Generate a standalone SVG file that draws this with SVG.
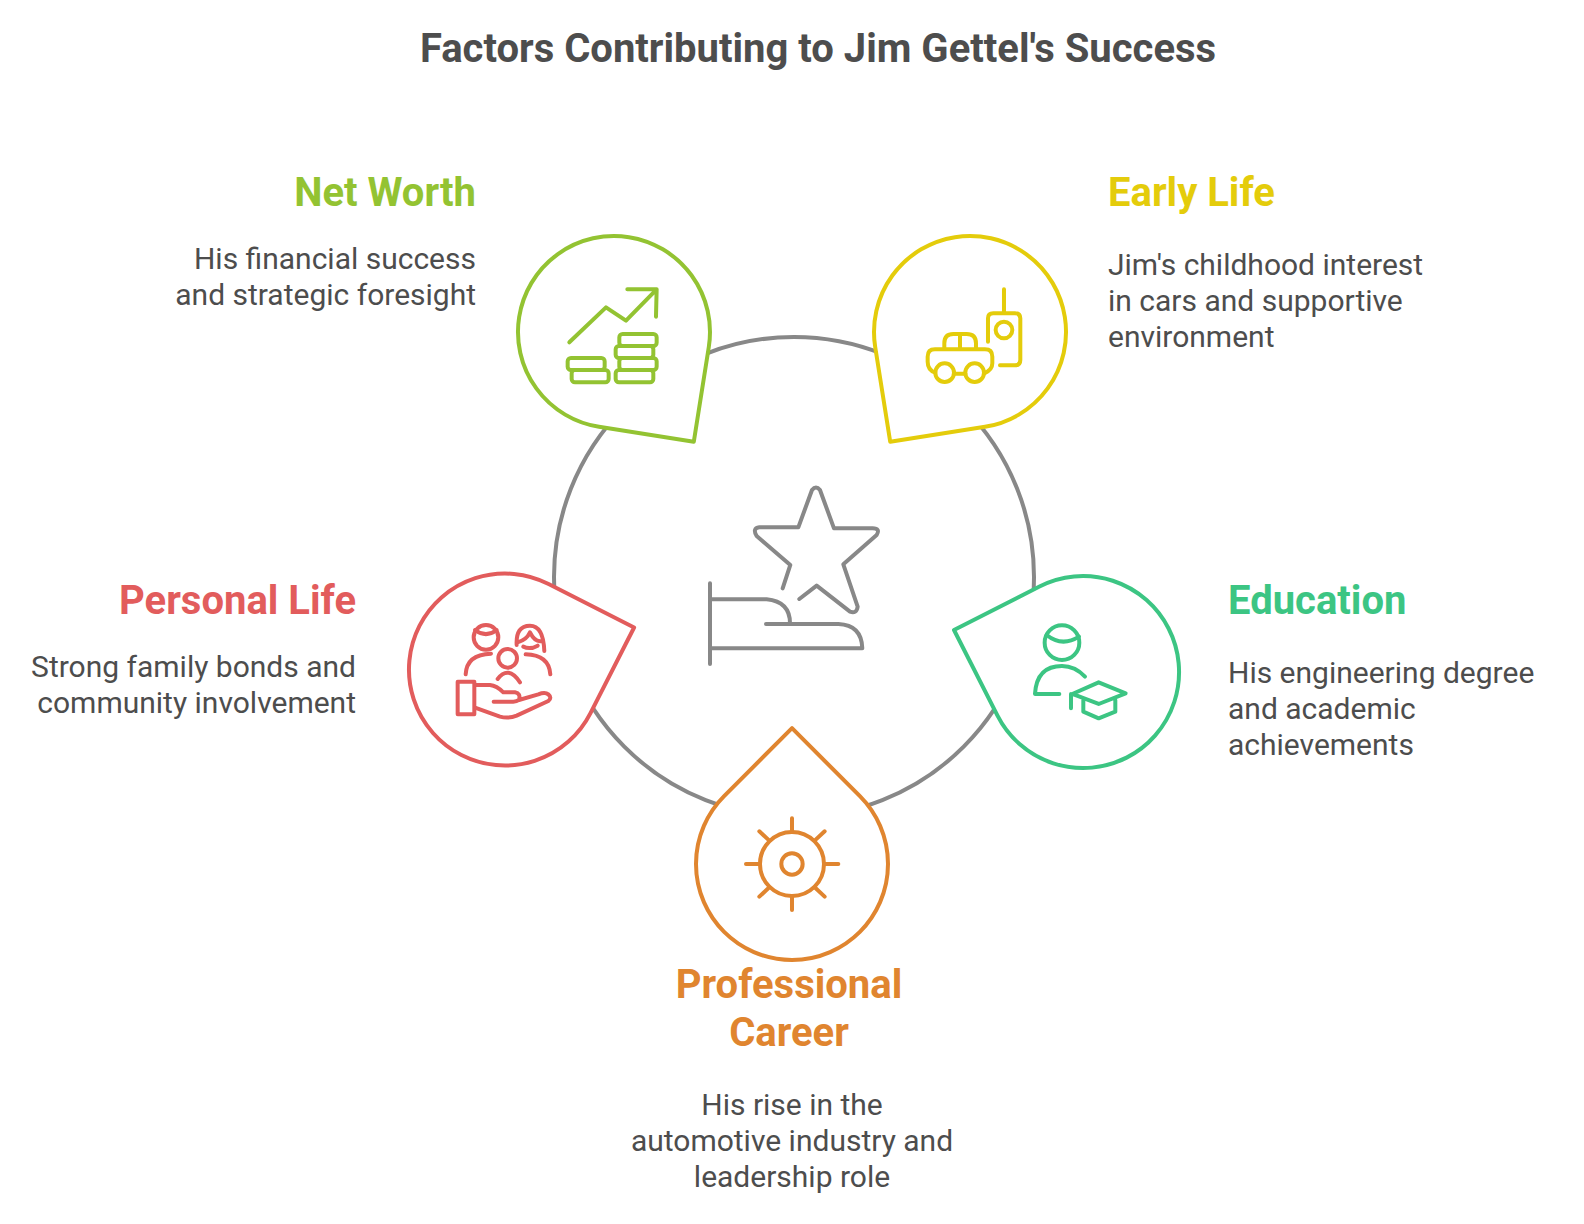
<svg xmlns="http://www.w3.org/2000/svg" width="1584" height="1224" viewBox="0 0 1584 1224">
<style>
text{font-family:Roboto,"Liberation Sans",sans-serif}
.title{font-size:40px;font-weight:700;fill:#4d4d4d}
.lab{font-size:40px;font-weight:700}
.body{font-size:30px;fill:#4d4d4d}
.drop{fill:#fff;stroke-width:4;stroke-linejoin:round}
.ic{fill:none;stroke-width:12;stroke-linecap:round;stroke-linejoin:round}
.g{stroke:#93C332}.y{stroke:#E4CC0B}.r{stroke:#E25C5C}.t{stroke:#3CC583}.o{stroke:#E0852F}
</style>
<rect width="1584" height="1224" fill="#fff"/>
<text class="title" x="818" y="62" text-anchor="middle">Factors Contributing to Jim Gettel's Success</text>
<g id="connectors"><circle cx="794" cy="577" r="240" fill="none" stroke="#888" stroke-width="4"/></g>
<g id="center"><g class="ic" stroke="#888" transform="translate(690 470) scale(.3333)">
<path d="M278,355 L301,285 L200,198 Q186,175 208,172 H325 L366,60 Q378,45 390,60 L432,175 H548 Q572,175 560,195 L460,283 L503,410 Q500,432 480,425 L380,347 L328,387"/>
<path d="M60,340 V582 M60,388 H230 Q300,395 300,460 M228,462 H445 Q515,465 517,535 H60"/></g></g>
<g id="net-worth">
<path class="drop g" d="M693.8,441.8 L599,426.8 A96,96 0 1 1 708.8,347 Z"/>
<g class="ic g" transform="translate(500 220) scale(.3333)">
<path d="M208,367 L318,262 L378,302 L470,208 M382,208 H470 L468,290"/>
<rect x="358" y="342" width="112" height="36" rx="10"/><rect x="347" y="378" width="113" height="36" rx="10"/><rect x="358" y="414" width="112" height="36" rx="10"/><rect x="347" y="450" width="113" height="37" rx="10"/><rect x="203" y="414" width="111" height="36" rx="10"/><rect x="215" y="450" width="111" height="37" rx="10"/></g>
<text class="lab" x="476" y="206" text-anchor="end" fill="#93C332">Net Worth</text>
<text class="body" text-anchor="end"><tspan x="476" y="269">His financial success</tspan><tspan x="476" y="305">and strategic foresight</tspan></text>
</g>
<g id="early-life">
<path class="drop y" d="M890.2,441.8 L875.2,347 A96,96 0 1 1 985,426.8 Z"/>
<g class="ic y" transform="translate(850 220) scale(.3333)">
<path d="M462,208 V280 M414,365 V295 Q414,280 430,280 H495 Q511,280 511,295 V420 Q511,436 495,436 H450"/><circle cx="462" cy="330" r="25"/>
<path d="M283,388 V370 Q283,342 310,342 H350 Q378,342 378,370 V388 M330,342 V388 M256,458 Q233,450 233,425 V410 Q233,388 255,388 H405 Q427,388 427,410 V430 Q427,450 403,460 M312,461 H346"/><circle cx="284" cy="458" r="28"/><circle cx="374" cy="458" r="28"/></g>
<text class="lab" x="1108" y="206" fill="#E4CC0B">Early Life</text>
<text class="body"><tspan x="1108" y="275">Jim's childhood interest</tspan><tspan x="1108" y="311">in cars and supportive</tspan><tspan x="1108" y="347">environment</tspan></text>
</g>
<g id="personal-life">
<path class="drop r" d="M634.1,627.5 L590.5,713.1 A96,96 0 1 1 548.6,584 Z"/>
<g class="ic r" transform="translate(395 555) scale(.3333)">
<circle cx="273" cy="247" r="37"/><path d="M240,225 Q273,250 305,225 M212,358 Q215,298 288,296"/><circle cx="338" cy="310" r="28"/><path d="M308,372 Q340,330 375,382 M365,270 Q362,212 405,212 Q445,212 448,288 M368,262 Q395,255 405,232 Q420,262 440,258 M385,275 Q405,285 428,272 M392,298 Q462,300 466,358"/>
<rect x="188" y="380" width="50" height="98"/><path d="M240,390 H285 Q305,392 325,412 H360 Q378,415 372,435 M296,440 H355 Q365,440 372,435 L430,418 Q450,410 460,418 Q472,428 460,438 L365,482 Q340,492 315,485 L240,458"/></g>
<text class="lab" x="356" y="614" text-anchor="end" fill="#E25C5C">Personal Life</text>
<text class="body" text-anchor="end"><tspan x="356" y="677">Strong family bonds and</tspan><tspan x="356" y="713">community involvement</tspan></text>
</g>
<g id="education">
<path class="drop t" d="M954,630 L1039.5,586.5 A96,96 0 1 1 997.5,715.6 Z"/>
<g class="ic t" transform="translate(935 560) scale(.3333)">
<circle cx="381" cy="248" r="52"/><path d="M335,225 Q381,262 432,230 M450,350 Q420,318 381,318 Q305,318 300,402 H373 M412,402 L491,367 L572,400 L491,432 Z M408,402 V445 M445,420 V455 L491,475 L541,455 V420"/></g>
<text class="lab" x="1228" y="614" fill="#3CC583">Education</text>
<text class="body"><tspan x="1228" y="683">His engineering degree</tspan><tspan x="1228" y="719">and academic</tspan><tspan x="1228" y="755">achievements</tspan></text>
</g>
<g id="professional-career">
<path class="drop o" d="M792,728.2 L724.1,796.1 A96,96 0 1 0 859.9,796.1 Z"/>
<g class="ic o" transform="translate(680 710) scale(.3333)">
<circle cx="336" cy="462" r="96"/><circle cx="336" cy="462" r="32"/><path d="M336,325 V366 M336,558 V600 M198,462 H240 M432,462 H475 M238,364 L268,392 M434,364 L404,392 M238,560 L268,532 M434,560 L404,532"/></g>
<text class="lab" text-anchor="middle" fill="#E0852F"><tspan x="789" y="998">Professional</tspan><tspan x="789" y="1046">Career</tspan></text>
<text class="body" text-anchor="middle"><tspan x="792" y="1115">His rise in the</tspan><tspan x="792" y="1151">automotive industry and</tspan><tspan x="792" y="1187">leadership role</tspan></text>
</g>
</svg>
